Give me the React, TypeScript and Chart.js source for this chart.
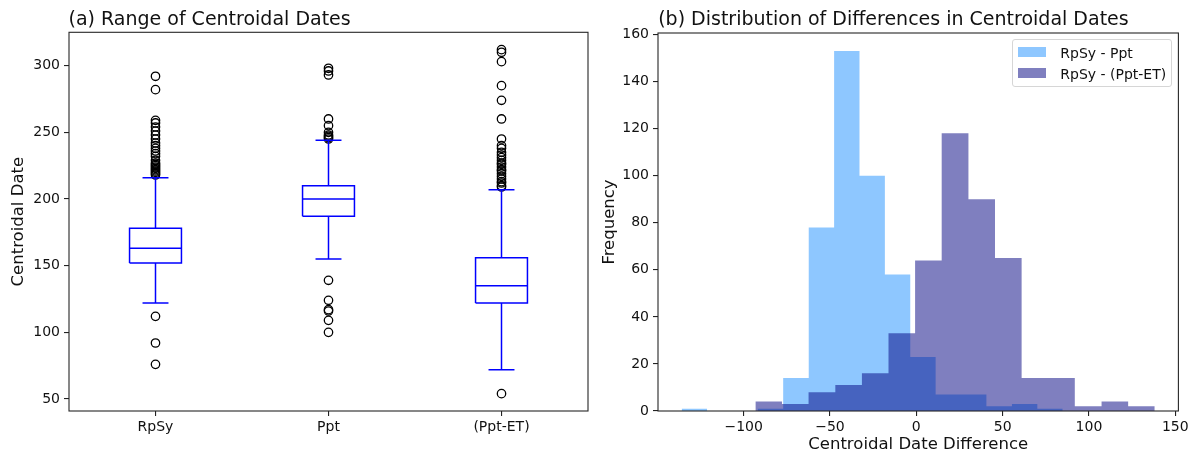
import React, { useEffect, useRef } from 'react';
import { Chart, registerables } from 'chart.js';

Chart.register(...registerables);

// ---------- Panel (a): box plot data ----------
const categories = ['RpSy', 'Ppt', '(Ppt-ET)'];
const boxQ1 = [152, 187, 122];
const boxMedian = [163, 200, 135];
const boxQ3 = [178, 210, 156];
const whiskerLow = [122, 155, 72];
const whiskerHigh = [216, 244, 207];
const outliersRpSy = [292, 282, 259, 257, 254, 251, 248, 245, 242, 240, 238, 236, 234, 232, 229, 227, 226, 225, 224, 223, 222, 221, 220, 219, 218, 112, 92, 76];
const outliersPpt = [298, 296, 293, 260, 255, 250, 248, 247, 246, 245, 139, 124, 117, 116, 109, 100];
const outliersPptET = [312, 310, 303, 285, 274, 260, 245, 240, 238, 235, 233, 231, 229, 227, 226, 224, 222, 221, 219, 217, 215, 213, 212, 210, 209, 54];
const boxYTicks = [50, 100, 150, 200, 250, 300];
const boxYMin = 41;
const boxYMax = 325;

// ---------- Panel (b): histogram data ----------
const seriesNames = ['RpSy - Ppt', 'RpSy - (Ppt-ET)'];
const histAEdges = [-135.9, -121.2, -106.5, -91.8, -77.1, -62.3, -47.6, -32.9, -18.2, -3.5, 11.2, 25.9, 40.6, 55.4, 70.1, 84.8];
const histACounts = [1, 0, 0, 1, 14, 78, 153, 100, 58, 23, 7, 7, 2, 3, 1];
const histBEdges = [-93.2, -77.8, -62.4, -46.9, -31.5, -16.1, -0.7, 14.7, 30.2, 45.6, 61.0, 76.4, 91.8, 107.3, 122.7, 138.1];
const histBCounts = [4, 3, 8, 11, 16, 33, 64, 118, 90, 65, 14, 14, 2, 4, 2];
const histXTicks = [-100, -50, 0, 50, 100, 150];
const histYTicks = [0, 20, 40, 60, 80, 100, 120, 140, 160];
const histXMin = -149.6;
const histXMax = 151.8;
const histYMax = 160.65;

const FONT = "'DejaVu Sans', 'Liberation Sans', sans-serif";
const BLUE_FILL = 'rgba(30,144,255,0.5)';
const NAVY_FILL = 'rgba(0,0,128,0.5)';

Chart.defaults.font.family = FONT;
Chart.defaults.font.size = 14;
Chart.defaults.color = '#111';

const framePlugin = {
  id: 'frame',
  afterDatasetsDraw(chart: any) {
    const { ctx, chartArea } = chart;
    const { left, top, right, bottom } = chartArea;
    ctx.save();
    ctx.strokeStyle = '#262626';
    ctx.lineWidth = 1.1;
    ctx.strokeRect(left, top, right - left, bottom - top);
    ctx.restore();
  },
};

const tickGrid = {
  display: true,
  drawOnChartArea: false,
  drawTicks: true,
  tickLength: 5,
  color: '#222',
  lineWidth: 1.1,
};

function histPoints(edges: number[], counts: number[]) {
  const pts = counts.map((c, i) => ({ x: edges[i], y: c }));
  pts.push({ x: edges[edges.length - 1], y: counts[counts.length - 1] });
  return pts;
}

function seg(points: { x: number; y: number }[]) {
  return {
    type: 'scatter' as const,
    data: points,
    showLine: true,
    borderColor: '#0000ff',
    borderWidth: 1.5,
    pointRadius: 0,
    pointHoverRadius: 0,
    fill: false,
    tension: 0,
  };
}

function buildBoxDatasets() {
  const half = 0.15;
  const capHalf = 0.075;
  const out: any[] = [];
  const allOutliers = [outliersRpSy, outliersPpt, outliersPptET];
  categories.forEach((_, i) => {
    const x = i + 1;
    out.push(seg([
      { x: x - half, y: boxQ1[i] }, { x: x + half, y: boxQ1[i] },
      { x: x + half, y: boxQ3[i] }, { x: x - half, y: boxQ3[i] },
      { x: x - half, y: boxQ1[i] },
    ]));
    out.push(seg([{ x: x - half, y: boxMedian[i] }, { x: x + half, y: boxMedian[i] }]));
    out.push(seg([{ x, y: boxQ1[i] }, { x, y: whiskerLow[i] }]));
    out.push(seg([{ x, y: boxQ3[i] }, { x, y: whiskerHigh[i] }]));
    out.push(seg([{ x: x - capHalf, y: whiskerLow[i] }, { x: x + capHalf, y: whiskerLow[i] }]));
    out.push(seg([{ x: x - capHalf, y: whiskerHigh[i] }, { x: x + capHalf, y: whiskerHigh[i] }]));
    out.push({
      type: 'scatter',
      data: allOutliers[i].map((v) => ({ x, y: v })),
      showLine: false,
      pointStyle: 'circle',
      pointRadius: 4.2,
      pointHoverRadius: 4.2,
      pointBorderWidth: 1.3,
      pointBorderColor: '#000',
      pointBackgroundColor: 'rgba(0,0,0,0)',
    });
  });
  return out;
}

function BoxChart() {
  const ref = useRef<HTMLCanvasElement | null>(null);
  useEffect(() => {
    if (!ref.current) return;
    const chart = new Chart(ref.current, {
      type: 'scatter',
      data: { datasets: buildBoxDatasets() },
      options: {
        animation: false,
        responsive: false,
        maintainAspectRatio: false,
        events: [],
        layout: { padding: { left: 0, top: 32.3, right: 10, bottom: 0 } },
        plugins: { legend: { display: false }, tooltip: { enabled: false } },
        scales: {
          x: {
            type: 'linear',
            min: 0.5,
            max: 3.5,
            grid: tickGrid,
            border: { display: false },
            afterBuildTicks: (s: any) => { s.ticks = categories.map((_, i) => ({ value: i + 1 })); },
            afterFit: (s: any) => { s.height = 46; },
            ticks: {
              padding: 3,
              font: { size: 14 },
              color: '#111',
              maxRotation: 0,
              callback: (v: any) => categories[Number(v) - 1] ?? '',
            },
          },
          y: {
            type: 'linear',
            min: boxYMin,
            max: boxYMax,
            grid: tickGrid,
            border: { display: false },
            afterBuildTicks: (s: any) => { s.ticks = boxYTicks.map((v) => ({ value: v })); },
            afterFit: (s: any) => { s.width = 69; },
            ticks: { padding: 4, font: { size: 14 }, color: '#111' },
            title: {
              display: true,
              text: 'Centroidal Date',
              font: { size: 16.5 },
              color: '#111',
              padding: { top: 8.9, bottom: 0 },
            },
          },
        },
      },
      plugins: [framePlugin],
    } as any);
    return () => chart.destroy();
  }, []);
  return <canvas ref={ref} width={598} height={457} style={{ position: 'absolute', left: 0, top: 0, width: 598, height: 457 }} />;
}

function HistChart() {
  const ref = useRef<HTMLCanvasElement | null>(null);
  useEffect(() => {
    if (!ref.current) return;
    const chart = new Chart(ref.current, {
      type: 'line',
      data: {
        datasets: [
          {
            label: seriesNames[0],
            data: histPoints(histAEdges, histACounts),
            stepped: true,
            fill: 'origin',
            backgroundColor: BLUE_FILL,
            borderColor: 'rgba(0,0,0,0)',
            borderWidth: 0,
            pointRadius: 0,
            pointHoverRadius: 0,
            order: 2,
          },
          {
            label: seriesNames[1],
            data: histPoints(histBEdges, histBCounts),
            stepped: true,
            fill: 'origin',
            backgroundColor: NAVY_FILL,
            borderColor: 'rgba(0,0,0,0)',
            borderWidth: 0,
            pointRadius: 0,
            pointHoverRadius: 0,
            order: 1,
          },
        ],
      },
      options: {
        animation: false,
        responsive: false,
        maintainAspectRatio: false,
        events: [],
        layout: { padding: { left: 0, top: 33, right: 18.6, bottom: 0 } },
        plugins: { legend: { display: false }, tooltip: { enabled: false } },
        scales: {
          x: {
            type: 'linear',
            min: histXMin,
            max: histXMax,
            grid: tickGrid,
            border: { display: false },
            afterBuildTicks: (s: any) => { s.ticks = histXTicks.map((v) => ({ value: v })); },
            afterFit: (s: any) => { s.height = 46; },
            ticks: {
              padding: 3,
              font: { size: 14 },
              color: '#111',
              maxRotation: 0,
              callback: (v: any) => String(v).replace('-', '\u2212'),
            },
            title: {
              display: true,
              text: 'Centroidal Date Difference',
              font: { size: 16.5 },
              color: '#111',
              padding: { top: 0, bottom: 2.3 },
            },
          },
          y: {
            type: 'linear',
            min: 0,
            max: histYMax,
            grid: tickGrid,
            border: { display: false },
            afterBuildTicks: (s: any) => { s.ticks = histYTicks.map((v) => ({ value: v })); },
            afterFit: (s: any) => { s.width = 60; },
            ticks: { padding: 4, font: { size: 14 }, color: '#111' },
            title: {
              display: true,
              text: 'Frequency',
              font: { size: 16.5 },
              color: '#111',
              padding: { top: 2.1, bottom: 0 },
            },
          },
        },
      },
      plugins: [framePlugin],
    } as any);
    return () => chart.destroy();
  }, []);
  return <canvas ref={ref} width={599} height={457} style={{ position: 'absolute', left: 598, top: 0, width: 599, height: 457 }} />;
}

const titleStyle: React.CSSProperties = {
  position: 'absolute',
  top: 8.9,
  fontFamily: FONT,
  fontSize: 19,
  lineHeight: '19px',
  color: '#111',
  whiteSpace: 'nowrap',
};

function Legend() {
  const rowText: React.CSSProperties = {
    position: 'absolute',
    left: 47.6,
    fontFamily: FONT,
    fontSize: 14,
    lineHeight: '14px',
    color: '#111',
    whiteSpace: 'nowrap',
  };
  const patch: React.CSSProperties = { position: 'absolute', left: 5.6, width: 28, height: 9.8 };
  return (
    <div
      style={{
        position: 'absolute',
        left: 1011.7,
        top: 39.3,
        width: 160,
        height: 47.4,
        boxSizing: 'border-box',
        border: '1px solid #d6d6d6',
        borderRadius: 3,
        background: 'rgba(255,255,255,0.8)',
      }}
    >
      <div style={{ ...patch, top: 6.5, background: BLUE_FILL }} />
      <div style={{ ...rowText, top: 5.4 }}>{seriesNames[0]}</div>
      <div style={{ ...patch, top: 27.8, background: NAVY_FILL }} />
      <div style={{ ...rowText, top: 26.8 }}>{seriesNames[1]}</div>
    </div>
  );
}

export default function App() {
  return (
    <div style={{ position: 'absolute', left: 0, top: 0, width: 1197, height: 457, background: '#fff', overflow: 'hidden' }}>
      <BoxChart />
      <HistChart />
      <div style={{ ...titleStyle, left: 68.5 }}>(a) Range of Centroidal Dates</div>
      <div style={{ ...titleStyle, left: 658.2 }}>(b) Distribution of Differences in Centroidal Dates</div>
      <Legend />
    </div>
  );
}
